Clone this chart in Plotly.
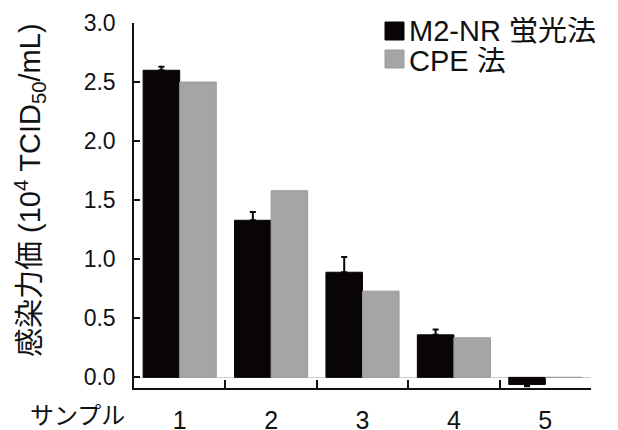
import plotly.graph_objects as go

categories = ["1", "2", "3", "4", "5"]
series_names = ["M2-NR 蛍光法", "CPE 法"]
m2nr_values = [2.60, 1.33, 0.89, 0.36, -0.06]
m2nr_err_plus = [0.03, 0.07, 0.13, 0.045, 0.0]
m2nr_err_minus = [0.0, 0.0, 0.0, 0.0, 0.015]
cpe_values = [2.50, 1.58, 0.73, 0.335, 0.0]
y_tick_vals = [0.0, 0.5, 1.0, 1.5, 2.0, 2.5, 3.0]
x_axis_label = "サンプル"
y_axis_label = "感染力価 (10<sup>4</sup> TCID<sub>50</sub>/mL)"

FONT = "'Liberation Sans', Arial, 'Noto Sans CJK JP', sans-serif"
BLACK = "#0a0505"
GRAY = "#a5a5a5"

# page body has an 8px margin, so margins are shifted to keep the plot area in place
PW, PH = 457, 365  # plot area size in px
fig = go.Figure()
fig.add_trace(go.Bar(
    x=categories, y=m2nr_values, name=series_names[0],
    marker=dict(color=BLACK, line=dict(color=BLACK, width=1)),
    error_y=dict(type="data", symmetric=False, array=m2nr_err_plus,
                 arrayminus=m2nr_err_minus, color=BLACK, thickness=2, width=3),
    showlegend=False,
))
fig.add_trace(go.Bar(
    x=categories, y=cpe_values, name=series_names[1],
    marker=dict(color=GRAY, line=dict(color="#9a9a9a", width=1)),
    showlegend=False,
))

fig.update_layout(
    width=618, height=430,
    margin=dict(l=126, r=35, t=15, b=50, autoexpand=False),
    paper_bgcolor="white", plot_bgcolor="white",
    barmode="group", bargap=0.2, bargroupgap=0,
    font=dict(family=FONT, color="#111111", size=23),
    showlegend=False,
)
fig.update_xaxes(
    type="category", range=[-0.5, 4.5], automargin=False,
    showline=True, linecolor="#111111", linewidth=1.5,
    ticks="inside", tickson="boundaries", ticklen=8, tickwidth=1.5, tickcolor="#111111",
    tickfont=dict(size=25), ticklabelstandoff=9,
    showgrid=False, zeroline=False,
)
fig.update_yaxes(
    range=[-0.09, 3.0], automargin=False,
    tickvals=y_tick_vals, tickformat=".1f",
    showline=True, linecolor="#111111", linewidth=1.5,
    ticks="inside", ticklen=6, tickwidth=1.5, tickcolor="#111111",
    tickfont=dict(size=23), ticklabelstandoff=12,
    showgrid=False, zeroline=True, zerolinecolor="#cfcfcf", zerolinewidth=1,
)

# helpers: page pixel -> paper coords (plot area at page x 134..591, y 23..388)
def px(x):
    return (x - 134) / PW

def py(y):
    return (388 - y) / PH

# y-axis title
fig.add_annotation(
    text=y_axis_label, xref="paper", yref="paper",
    x=px(30), y=py(190), xanchor="center", yanchor="middle",
    textangle=-90, showarrow=False, font=dict(size=29, family=FONT),
)
# x-axis row label
fig.add_annotation(
    text=x_axis_label, xref="paper", yref="paper",
    x=px(77), y=py(415), xanchor="center", yanchor="middle",
    showarrow=False, font=dict(size=24, family=FONT),
)

# custom legend
legend_colors = [BLACK, GRAY]
legend_lines = ["#0a0505", "#9a9a9a"]
for i, (name, col, lc) in enumerate(zip(series_names, legend_colors, legend_lines)):
    top = 22 + i * 28
    fig.add_shape(
        type="rect", xref="paper", yref="paper",
        x0=px(385), x1=px(404), y0=py(top), y1=py(top + 18),
        fillcolor=col, line=dict(color=lc, width=1),
    )
    fig.add_annotation(
        text=name, xref="paper", yref="paper",
        x=px(407), y=py(top + 8 + i * 2),
        xanchor="left", yanchor="middle", showarrow=False, height=27,
        font=dict(size=29, family=FONT),
    )

fig.write_html("out.html")
